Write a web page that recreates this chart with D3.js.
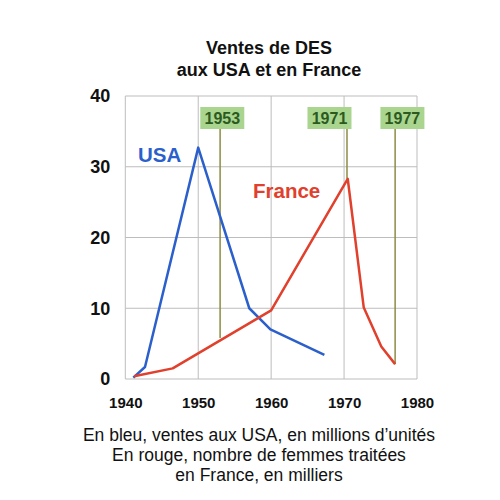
<!DOCTYPE html>
<html><head><meta charset="utf-8">
<script src="https://cdn.jsdelivr.net/npm/d3@7"></script>
<style>body{margin:0;background:#fff}svg{display:block}</style>
</head><body>
<script>
const usaYears = [1941.1, 1942.7, 1950, 1957, 1959.9, 1967.3];
const usaValues = [0.2, 1.7, 32.7, 10, 7.0, 3.4];
const frYears = [1941.2, 1946.5, 1960, 1970.5, 1972.7, 1975.1, 1977];
const frValues = [0.4, 1.5, 9.7, 28.3, 10.1, 4.6, 2.1];
const xTicks = [1940, 1950, 1960, 1970, 1980];
const yTicks = [0, 10, 20, 30, 40];
const markLabels = ["1953", "1971", "1977"];
const markYears = [1953, 1970.4, 1977];
const markEnds = [5.8, 28.3, 2.1];
const markBoxYears = [1953.3, 1968.0, 1978.0];
const titleLines = ["Ventes de DES", "aux USA et en France"];
const noteLines = ["En bleu, ventes aux USA, en millions d\u2019unit\u00e9s", "En rouge, nombre de femmes trait\u00e9es", "en France, en milliers"];

const W = 500, H = 500;
const svg = d3.select("body").append("svg").attr("width", W).attr("height", H);
const font = "'Liberation Sans', Arial, sans-serif";
const x = d3.scaleLinear().domain([1940, 1980]).range([125.3, 417]);
const y = d3.scaleLinear().domain([0, 40]).range([379, 96]);

// grid
const g = svg.append("g");
g.selectAll(".vg").data(xTicks).join("line")
  .attr("x1", d => x(d)).attr("x2", d => x(d)).attr("y1", y(40)).attr("y2", y(0))
  .attr("stroke", "#bdbdbd").attr("stroke-width", 1);
g.selectAll(".hg").data(yTicks).join("line")
  .attr("x1", x(1940)).attr("x2", x(1980)).attr("y1", d => y(d)).attr("y2", d => y(d))
  .attr("stroke", "#bdbdbd").attr("stroke-width", 1);

// axes labels
const xAxis = d3.axisBottom(x).tickValues(xTicks).tickFormat(d3.format("d")).tickSize(0).tickPadding(18);
const xa = svg.append("g").attr("transform", `translate(0,${y(0)})`).call(xAxis);
xa.select(".domain").remove();
xa.selectAll("text").attr("font-family", font).attr("font-weight", "bold").attr("font-size", 15).attr("fill", "#111");

const yAxis = d3.axisLeft(y).tickValues(yTicks).tickSize(0).tickPadding(15);
const ya = svg.append("g").attr("transform", `translate(${x(1940)},0)`).call(yAxis);
ya.select(".domain").remove();
ya.selectAll("text").attr("font-family", font).attr("font-weight", "bold").attr("font-size", 18).attr("fill", "#111");

// marker lines
svg.selectAll(".ml").data(markYears).join("line")
  .attr("x1", d => x(d)).attr("x2", d => x(d))
  .attr("y1", 128).attr("y2", (d, i) => y(markEnds[i]))
  .attr("stroke", "#8c8c44").attr("stroke-width", 1.5);

// lines
const line = d3.line().x(d => x(d[0])).y(d => y(d[1]));
svg.append("path").datum(usaYears.map((d, i) => [d, usaValues[i]]))
  .attr("d", line).attr("fill", "none").attr("stroke", "#2b5fcc").attr("stroke-width", 2.5).attr("stroke-linejoin", "round");
svg.append("path").datum(frYears.map((d, i) => [d, frValues[i]]))
  .attr("d", line).attr("fill", "none").attr("stroke", "#e0402c").attr("stroke-width", 2.5).attr("stroke-linejoin", "round");

// marker boxes
const boxes = svg.selectAll(".mb").data(markLabels).join("g")
  .attr("transform", (d, i) => `translate(${x(markBoxYears[i])},118)`);
boxes.append("rect").attr("x", -22).attr("y", -11).attr("width", 44).attr("height", 22)
  .attr("fill", "#a9d58f");
boxes.append("text").text(d => d).attr("text-anchor", "middle").attr("dy", 6)
  .attr("font-family", font).attr("font-weight", "bold").attr("font-size", 16).attr("fill", "#2c5a1e");

// series labels
svg.append("text").text("USA").attr("x", 138).attr("y", 162)
  .attr("font-family", font).attr("font-weight", "bold").attr("font-size", 20.5).attr("fill", "#2b5fcc");
svg.append("text").text("France").attr("x", 253).attr("y", 198)
  .attr("font-family", font).attr("font-weight", "bold").attr("font-size", 20.5).attr("fill", "#e0402c");

// title
svg.selectAll(".tl").data(titleLines).join("text").text(d => d)
  .attr("x", 269).attr("y", (d, i) => 54 + i * 22).attr("text-anchor", "middle")
  .attr("font-family", font).attr("font-weight", "bold").attr("font-size", 18).attr("fill", "#111");

// notes
svg.selectAll(".nl").data(noteLines).join("text").text(d => d)
  .attr("x", 259).attr("y", (d, i) => 441 + i * 20).attr("text-anchor", "middle")
  .attr("font-family", font).attr("font-size", 17.5).attr("fill", "#111");
</script>
</body></html>
